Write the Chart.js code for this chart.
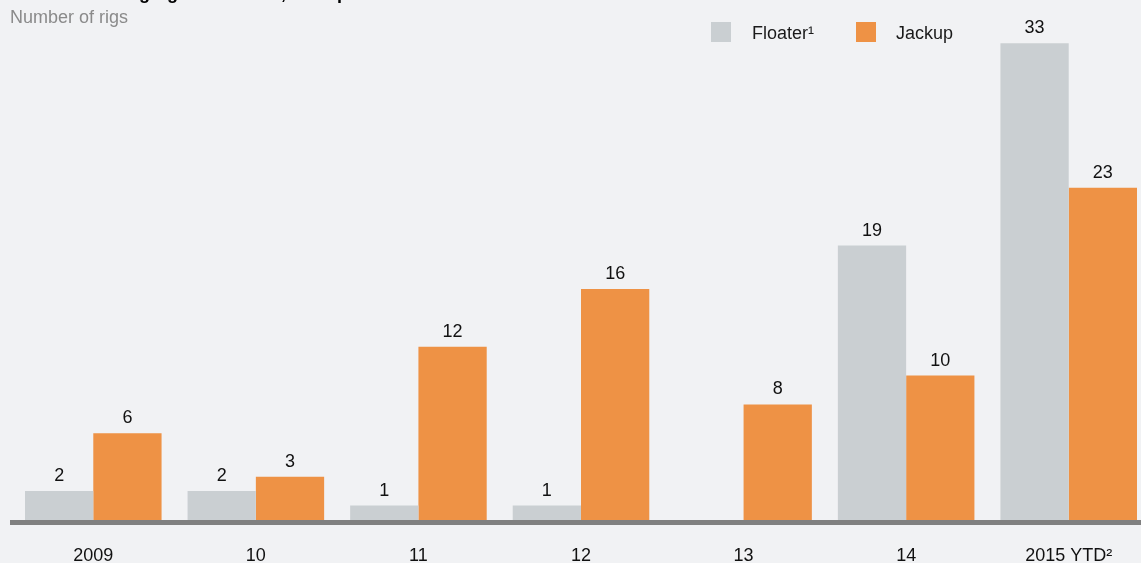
<!DOCTYPE html>
<html><head><meta charset="utf-8">
<script src="https://cdn.jsdelivr.net/npm/chart.js@4"></script>
<style>
html,body{margin:0;padding:0;background:#f1f2f4;overflow:hidden;width:1141px;height:563px;font-family:Arial,"Liberation Sans",sans-serif;}
#wrap{position:absolute;left:0;top:0;width:1150px;height:563px;}
.t{position:absolute;white-space:nowrap;}
#title{left:10px;top:-17px;font-size:18px;font-weight:bold;color:#000;}
#sub{left:10px;top:7px;font-size:18px;color:#8a8a8a;}
.sw{position:absolute;width:20px;height:20px;top:22px;}
.lg{position:absolute;top:23px;font-size:18px;color:#1a1a1a;}
</style></head><body>
<div id="wrap"><canvas id="c" width="1150" height="563"></canvas></div>
<div class="t" id="title">Offshore drilling rig retirements, 2009-present</div>
<div class="t" id="sub">Number of rigs</div>
<div class="sw" style="left:711px;background:#cacfd2"></div>
<div class="lg" style="left:752px">Floater¹</div>
<div class="sw" style="left:856px;background:#ee9245"></div>
<div class="lg" style="left:896px">Jackup</div>
<script>
const categories = ["2009","10","11","12","13","14","2015 YTD²"];
const floater = [2,2,1,1,null,19,33];
const jackup = [6,3,12,16,8,10,23];

const labelPlugin = {
  id:'vals',
  afterDatasetsDraw(chart){
    const ctx = chart.ctx;
    const a = chart.chartArea;
    ctx.save();
    ctx.fillStyle = '#808080';
    ctx.fillRect(10, a.bottom, chart.width - 10, 5);
    ctx.font = '18px Arial, "Liberation Sans", sans-serif';
    ctx.fillStyle = '#111';
    ctx.textAlign = 'center';
    ctx.textBaseline = 'middle';
    chart.data.datasets.forEach((ds,i)=>{
      chart.getDatasetMeta(i).data.forEach((el,j)=>{
        const v = ds.data[j];
        if(v===null||v===undefined) return;
        ctx.fillText(String(v), el.x, el.y - 15);
      });
    });
    ctx.restore();
  }
};

new Chart(document.getElementById('c'),{
  type:'bar',
  data:{labels:categories,datasets:[
    {label:'Floater¹',data:floater,backgroundColor:'#cacfd2',barPercentage:1,categoryPercentage:0.84},
    {label:'Jackup',data:jackup,backgroundColor:'#ee9245',barPercentage:1,categoryPercentage:0.84}
  ]},
  options:{
    responsive:false,animation:false,
    layout:{padding:{left:12,right:0,top:0,bottom:0}},
    plugins:{legend:{display:false},title:{display:false},tooltip:{enabled:false}},
    scales:{
      x:{grid:{display:false,drawTicks:false},border:{display:false},
         ticks:{color:'#111',font:{size:18,family:'Arial, "Liberation Sans", sans-serif'},padding:25,maxRotation:0,autoSkip:false},
         afterFit(s){s.height=43;}},
      y:{display:false,min:0,max:36}
    }
  },
  plugins:[labelPlugin]
});
</script>
</body></html>
